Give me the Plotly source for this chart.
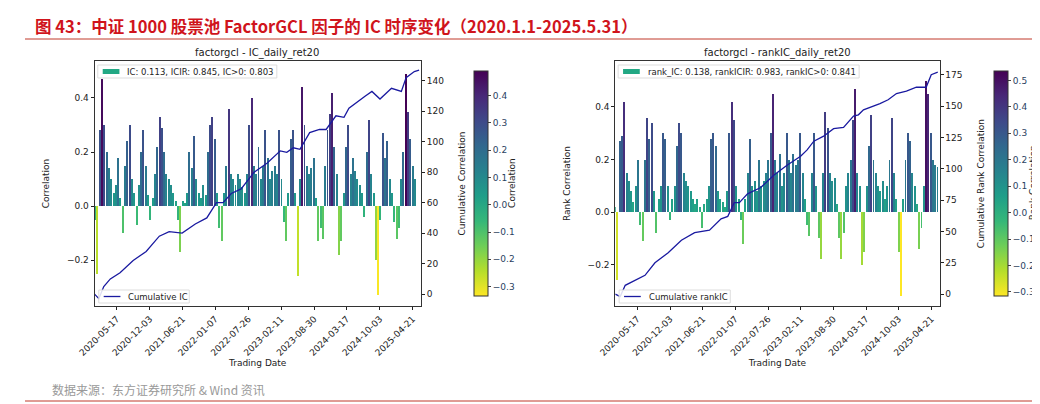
import plotly.graph_objects as go
import pandas as pd

ic_values = [-0.05,-0.25,0.28,0.47,0.3,0.2,0.14,0.1,0.05,0.08,0.18,0.03,-0.1,0.15,0.24,0.3,0.1,0.05,-0.07,0.08,
 0.2,0.28,0.15,0.04,-0.05,0.03,0.12,0.22,0.33,0.29,0.2,0.12,0.1,0.08,0.05,0.02,-0.05,-0.17,0.02,0.01,
 0.05,0.2,0.14,0.26,0.1,0.05,0.03,0.08,0.04,0.2,0.3,0.33,0.25,0.05,-0.08,-0.13,0.05,0.15,0.36,0.12,
 0.1,0.08,0.12,0.1,0.07,0.05,0.12,0.3,0.4,0.15,0.12,0.22,0.1,0.15,0.28,0.18,0.1,0.13,0.15,0.12,
 0.28,0.1,-0.06,-0.13,0.05,0.25,0.28,0.05,-0.26,0.1,0.44,0.3,0.15,0.12,0.14,0.18,0.03,-0.13,-0.08,-0.12,
 0.15,0.28,0.34,0.42,0.22,0.12,-0.18,-0.13,0.05,0.22,0.3,0.12,0.18,0.13,0.1,0.08,0.05,-0.04,0.2,0.32,
 0.12,0.05,-0.2,-0.33,-0.05,0.27,0.18,0.24,0.1,0.05,-0.06,-0.12,-0.08,0.1,0.2,0.49,0.35,0.25,0.15,0.1]
rank_values = [0.02,-0.26,0.27,0.29,0.42,0.15,0.12,0.08,0.04,0.1,0.2,-0.05,-0.11,0.2,0.36,0.28,0.34,0.08,-0.08,0.05,
 0.1,0.3,0.28,0.1,-0.03,0.05,0.1,0.25,0.34,0.3,0.15,0.12,0.1,0.08,0.05,0.03,0.05,0.02,-0.06,0.03,
 0.05,0.1,0.28,0.3,0.25,0.08,0.05,0.04,0.02,0.08,0.3,0.42,0.35,0.1,0.05,-0.03,-0.12,0.05,0.15,0.28,
 0.1,0.12,0.08,0.2,0.1,0.12,0.15,0.2,0.3,0.45,0.2,0.15,0.22,0.1,0.15,0.3,0.2,0.15,0.22,0.18,
 0.2,0.3,0.15,0.05,-0.05,-0.09,0.15,0.3,0.1,-0.1,-0.18,0.15,0.38,0.32,0.15,0.12,0.13,0.03,-0.1,-0.18,
 -0.08,0.1,0.15,0.2,0.35,0.47,0.15,0.1,-0.2,-0.15,0.1,0.25,0.37,0.2,0.15,0.1,0.08,0.12,0.05,0.1,
 0.2,0.36,0.15,0.05,-0.15,-0.32,0.05,0.2,0.3,0.27,0.15,0.1,0.03,-0.14,-0.06,0.1,0.5,0.45,0.3,0.2,0.18,0.17]
ic_dates = pd.date_range("2020-01-03", periods=len(ic_values), freq="14D")
rank_dates = pd.date_range("2020-01-03", periods=len(rank_values), freq="14D")

cum_ic_dates = ["2020-01-02","2020-01-28","2020-02-27","2020-04-07","2020-06-05","2020-08-24","2020-11-11","2021-01-30",
 "2021-03-31","2021-06-18","2021-09-06","2021-11-15","2022-01-13","2022-02-22","2022-04-13","2022-06-12","2022-08-30",
 "2022-11-18","2023-02-05","2023-03-17","2023-04-26","2023-06-05","2023-08-03","2023-10-02","2023-11-11","2024-01-10",
 "2024-02-28","2024-03-29","2024-07-07","2024-08-16","2024-10-04","2024-12-13","2025-02-11","2025-03-12","2025-05-01","2025-05-30"]
cum_ic = [0,-3,5,10,14,22,28,38,41,40,46,50,60,60,66,69,80,86,94,93,96,95,106,108,108,117,116,122,130,133,128,135,133,142,146,147]
cum_rank_dates = ["2020-01-02","2020-02-01","2020-03-03","2020-05-03","2020-07-02","2020-09-01","2020-11-21","2021-02-10",
 "2021-05-02","2021-08-01","2021-10-11","2021-11-21","2021-12-31","2022-01-31","2022-03-22","2022-06-11","2022-08-31",
 "2022-11-21","2023-02-10","2023-03-22","2023-05-02","2023-07-01","2023-08-31","2023-10-31","2023-12-31","2024-01-30",
 "2024-03-01","2024-06-10","2024-07-30","2024-09-19","2024-11-19","2025-01-19","2025-03-20","2025-04-20","2025-05-30"]
cum_rank = [0,-2,7,11,15,25,33,43,49,51,60,62,73,73,80,85,95,103,110,115,122,126,132,133,142,143,147,152,155,160,162,165,165,175,177]

tick_dates = ["2020-05-17","2020-12-03","2021-06-21","2022-01-07","2022-07-26","2023-02-11","2023-08-30","2024-03-17","2024-10-03","2025-04-21"]

F = "DejaVu Sans"
fig = go.Figure()
W = 6*24*3600*1000

def add(vals, dates, cdates, cvals, xa, ya, ya2, cmin, cmax, cbx):
    fig.add_trace(go.Bar(x=dates, y=vals, width=W, xaxis=xa, yaxis=ya, showlegend=False,
        marker=dict(color=vals, colorscale="Viridis_r", cmin=cmin, cmax=cmax, line=dict(width=0),
            colorbar=dict(x=cbx, xanchor="left", y=0.262, yanchor="bottom", len=0.607, lenmode="fraction",
                thickness=14, outlinewidth=1, outlinecolor="#333", ticks="outside", ticklen=3,
                tickfont=dict(size=9, family=F), dtick=0.1, tickformat=".1f"))))
    fig.add_trace(go.Scatter(x=cdates, y=cvals, mode="lines", xaxis=xa, yaxis=ya2, showlegend=False,
        line=dict(color="#1a1aa0", width=1.3)))

add(ic_values, ic_dates, cum_ic_dates, cum_ic, "x", "y", "y2", -0.335, 0.49, 0.429)
add(rank_values, rank_dates, cum_rank_dates, cum_rank, "x2", "y3", "y4", -0.316, 0.535, 0.9375)

ax = dict(showgrid=False, zeroline=False, showline=True, linecolor="#333", mirror=True, ticks="outside",
          ticklen=3, tickfont=dict(size=9, family=F), color="#222")
xr = ["2020-01-02", "2025-06-10"]
fig.update_layout(
    width=1040, height=404, margin=dict(l=0, r=0, t=0, b=0), plot_bgcolor="white", paper_bgcolor="white",
    bargap=0,
    xaxis=dict(ax, domain=[0.068, 0.387], range=xr, anchor="y", tickvals=tick_dates, ticktext=tick_dates,
               tickangle=-45, title=dict(text="Trading Date", font=dict(size=9, family=F), standoff=2)),
    yaxis=dict(ax, domain=[0.262, 0.869], range=[-0.37, 0.537], dtick=0.2, tickformat=".1f", anchor="x",
               title=dict(text="Correlation", font=dict(size=9, family=F))),
    yaxis2=dict(ax, overlaying="y", side="right", anchor="x", range=[-7.9, 153], dtick=20, mirror=False,
               title=dict(text="Cumulative Correlation", font=dict(size=9, family=F))),
    xaxis2=dict(ax, domain=[0.577, 0.894], range=xr, anchor="y3", tickvals=tick_dates, ticktext=tick_dates,
               tickangle=-45, title=dict(text="Trading Date", font=dict(size=9, family=F), standoff=2)),
    yaxis3=dict(ax, domain=[0.262, 0.869], range=[-0.358, 0.575], dtick=0.2, tickformat=".1f", anchor="x2",
               title=dict(text="Rank Correlation", font=dict(size=9, family=F))),
    yaxis4=dict(ax, overlaying="y3", side="right", anchor="x2", range=[-9.6, 186], dtick=25, mirror=False,
               title=dict(text="Cumulative Rank Correlation", font=dict(size=9, family=F))),
)

def px(x): return x/1040
def py(y): return 1 - y/404

ann = []
shapes = []
ann.append(dict(x=px(8), y=py(18), xref="paper", yref="paper", xanchor="left", yanchor="middle", showarrow=False,
    text="<b>图 43：中证 1000 股票池 FactorGCL 因子的 IC 时序变化（2020.1.1-2025.5.31）</b>",
    font=dict(size=16.5, color="#d0141c", family="Noto Sans CJK SC")))
shapes.append(dict(type="line", xref="paper", yref="paper", x0=0, x1=1, y0=py(31), y1=py(31), line=dict(color="#c0392b", width=1)))
ann.append(dict(x=px(25), y=py(381), xref="paper", yref="paper", xanchor="left", yanchor="middle", showarrow=False,
    text="数据来源：东方证券研究所 & Wind 资讯", font=dict(size=12, color="#999", family="Noto Sans CJK SC")))
shapes.append(dict(type="line", xref="paper", yref="paper", x0=0, x1=1, y0=py(393), y1=py(393), line=dict(color="#c0392b", width=1)))

for cx, title, leg1, leg2, w1, w2, cbt, cbtx in [
    (71, "factorgcl - IC_daily_ret20", "IC: 0.113, ICIR: 0.845, IC>0: 0.803", "Cumulative IC", 182, 92, "Correlation", 495),
    (600, "factorgcl - rankIC_daily_ret20", "rank_IC: 0.138, rankICIR: 0.983, rankIC>0: 0.841", "Cumulative rankIC", 245, 113, "Rank Correlation", 1025)]:
    ann.append(dict(x=px(cbtx), y=py(175), xref="paper", yref="paper", xanchor="center", yanchor="middle",
        showarrow=False, textangle=-90, text=cbt, font=dict(size=9, family=F, color="#222")))
    ann.append(dict(x=px(cx+165), y=py(45), xref="paper", yref="paper", xanchor="center", yanchor="middle",
        showarrow=False, text=title, font=dict(size=10, family=F, color="#222")))
    shapes.append(dict(type="rect", xref="paper", yref="paper", x0=px(cx+3), x1=px(cx+3+w1), y0=py(57), y1=py(70),
        line=dict(color="#ddd", width=1), fillcolor="rgba(255,255,255,0.85)"))
    shapes.append(dict(type="rect", xref="paper", yref="paper", x0=px(cx+8), x1=px(cx+25), y0=py(61), y1=py(66),
        line=dict(width=0), fillcolor="#22a884"))
    ann.append(dict(x=px(cx+31), y=py(63.5), xref="paper", yref="paper", xanchor="left", yanchor="middle",
        showarrow=False, text=leg1, font=dict(size=8.5, family=F, color="#222")))
    shapes.append(dict(type="rect", xref="paper", yref="paper", x0=px(cx+4), x1=px(cx+4+w2), y0=py(282), y1=py(295),
        line=dict(color="#ddd", width=1), fillcolor="rgba(255,255,255,0.85)"))
    shapes.append(dict(type="line", xref="paper", yref="paper", x0=px(cx+9), x1=px(cx+26), y0=py(288.5), y1=py(288.5),
        line=dict(color="#1a1aa0", width=1.3)))
    ann.append(dict(x=px(cx+32), y=py(288.5), xref="paper", yref="paper", xanchor="left", yanchor="middle",
        showarrow=False, text=leg2, font=dict(size=8.5, family=F, color="#222")))

fig.update_layout(annotations=ann, shapes=shapes)
fig.write_html("out.html")
